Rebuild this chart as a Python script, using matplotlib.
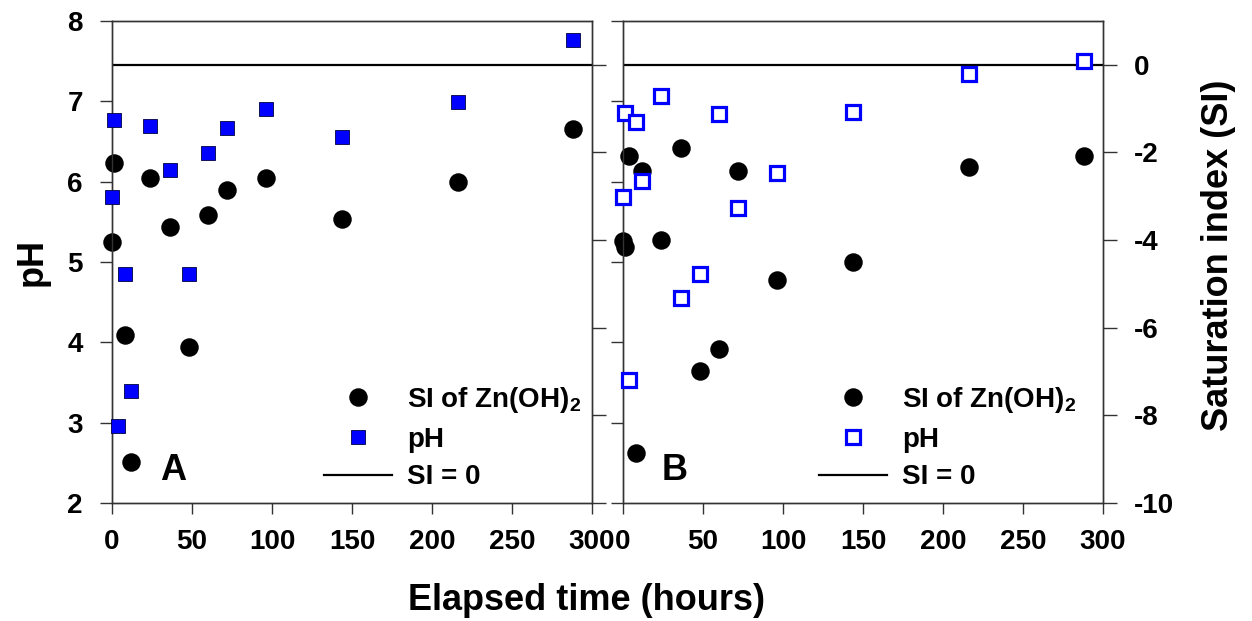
import matplotlib
matplotlib.use("Agg")
import matplotlib.pyplot as plt
from matplotlib.lines import Line2D

plt.rcParams["font.family"] = ["Liberation Sans", "DejaVu Sans"]
plt.rcParams["font.weight"] = "bold"
plt.rcParams["axes.unicode_minus"] = False
plt.rcParams["mathtext.fontset"] = "custom"
plt.rcParams["mathtext.rm"] = "Liberation Sans:bold"
plt.rcParams["mathtext.default"] = "rm"

# ---- data -------------------------------------------------------------
time_a_ph = [0, 1, 4, 8, 12, 24, 36, 48, 60, 72, 96, 144, 216, 288]
ph_a = [5.81, 6.77, 2.96, 4.85, 3.40, 6.69, 6.14, 4.85, 6.36, 6.67, 6.90, 6.56, 6.99, 7.76]
time_a_si = [0, 1, 8, 12, 24, 36, 48, 60, 72, 96, 144, 216, 288]
si_a = [-4.05, -2.24, -6.16, -9.06, -2.59, -3.71, -6.43, -3.43, -2.86, -2.59, -3.51, -2.68, -1.46]

time_b = [0, 1, 4, 8, 12, 24, 36, 48, 60, 72, 96, 144, 216, 288]
ph_b = [5.81, 6.85, 3.53, 6.74, 6.01, 7.07, 4.55, 4.85, 6.84, 5.67, 6.11, 6.87, 7.34, 7.50]
si_b = [-4.03, -4.16, -2.08, -8.86, -2.43, -4.00, -1.90, -6.98, -6.48, -2.43, -4.92, -4.51, -2.34, -2.08]

x_ticks = [0, 50, 100, 150, 200, 250, 300]
ph_ticks = [2, 3, 4, 5, 6, 7, 8]
si_ticks = [-10, -8, -6, -4, -2, 0]
si_zero = 0

legend_labels = ["SI of Zn(OH)$_2$", "pH", "SI = 0"]

# ---- layout -----------------------------------------------------------
W, H = 1252, 621
fig = plt.figure(figsize=(W / 100, H / 100), dpi=100)

SPINE = "#333333"
BLUE = "#0000ff"
TICK_FS = 20
LABEL_FS = 26


def px_axes(left, right, top, bottom):
    return fig.add_axes([left / W, 1 - bottom / H, (right - left) / W, (bottom - top) / H])


def style(ax):
    for s in ax.spines.values():
        s.set_color(SPINE)
        s.set_linewidth(1.0)


def panel(left, t_ph, ph, t_si, si, open_squares, ph_labels, si_labels, leg_x):
    ax = px_axes(left, left + 480, 21, 503)
    tw = ax.twinx()
    ax.set_zorder(tw.get_zorder() + 1)
    ax.patch.set_visible(False)

    ax.set_xlim(0, 300)
    ax.set_ylim(2, 8)
    tw.set_ylim(-10, 1)

    ax.set_xticks(x_ticks)
    ax.set_yticks(ph_ticks)
    tw.set_yticks(si_ticks)
    ax.tick_params(axis="x", direction="out", length=8, width=1, color=SPINE,
                   labelsize=TICK_FS, pad=11)
    ax.tick_params(axis="y", direction="out", length=9, width=1, color=SPINE,
                   labelsize=TICK_FS, pad=12, labelleft=ph_labels)
    tw.tick_params(axis="y", direction="out", length=10, width=1, color=SPINE,
                   labelsize=TICK_FS, pad=12, labelright=si_labels)
    style(ax)
    style(tw)

    # saturation line and SI values on the right axis
    tw.axhline(si_zero, color="black", lw=1.6, zorder=1)
    tw.plot(t_si, si, ls="none", marker="o", ms=12.3, mfc="black", mec="black",
            clip_on=False, zorder=3)

    # pH on the left axis
    if open_squares:
        sq = dict(marker="s", ms=10.2, mfc="white", mec=BLUE, mew=2.3)
    else:
        sq = dict(marker="s", ms=10.6, mfc=BLUE, mec="#000040", mew=0.6)
    ax.plot(t_ph, ph, ls="none", clip_on=False, zorder=4, **sq)

    handles = [
        Line2D([], [], ls="none", marker="o", ms=12.3, mfc="black", mec="black"),
        Line2D([], [], ls="none", **sq),
        Line2D([], [], color="black", lw=1.6),
    ]
    ax.legend(handles, legend_labels, loc="upper left",
              bbox_to_anchor=((leg_x - left) / 480, (503 - 385) / 482),
              frameon=False, fontsize=TICK_FS, handlelength=2.43, handletextpad=0.55,
              borderpad=0, borderaxespad=0, labelspacing=0.42)
    return ax, tw


axA, twA = panel(112, time_a_ph, ph_a, time_a_si, si_a, False, True, False, 324)
axB, twB = panel(623, time_b, ph_b, time_b, si_b, True, False, True, 819)

fig.text(173 / W, 1 - 470 / H, "A", fontsize=LABEL_FS, fontweight="bold",
         ha="center", va="center")
fig.text(675 / W, 1 - 470 / H, "B", fontsize=LABEL_FS, fontweight="bold",
         ha="center", va="center")

fig.text(32 / W, 1 - 262 / H, "pH", fontsize=LABEL_FS, fontweight="bold",
         rotation=90, ha="center", va="center")
fig.text(1218 / W, 1 - 255 / H, "Saturation index (SI)", fontsize=LABEL_FS,
         fontweight="bold", rotation=90, ha="center", va="center")
fig.text(586 / W, 1 - 600 / H, "Elapsed time (hours)", fontsize=LABEL_FS,
         fontweight="bold", ha="center", va="center")

fig.savefig("out.png", dpi=100, facecolor="white")
